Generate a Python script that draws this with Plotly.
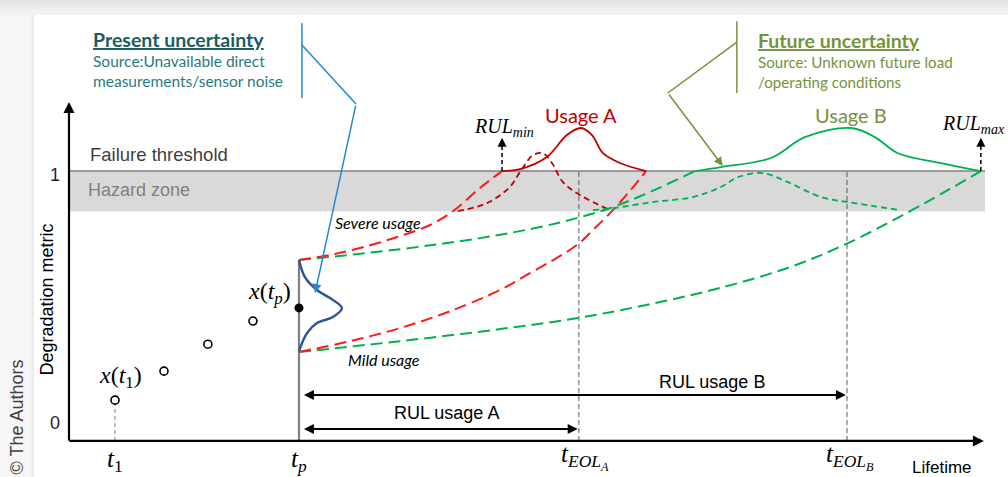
import plotly.graph_objects as go

# ---------------- scales ----------------
# lifetime (horizontal) and degradation metric (vertical) view windows
T_RANGE = [-3.0, 40.83]
D_RANGE = [-0.214, 1.679]
AXIS_D = -0.071          # level at which the lifetime axis is drawn
AXIS_T_END = 39.78       # tip of the lifetime arrow
AXIS_D_END = 1.274       # tip of the degradation arrow

# ---------------- data ----------------
meas_t = [2.0, 4.13, 6.04, 8.0]          # past measurements x(t_i)
meas_d = [0.091, 0.206, 0.313, 0.405]
t_p = 10.0
x_tp = 0.457                              # current estimate x(t_p)

threshold = 1.0
hazard_low = 0.841
hazard_t_end = 39.83

t_eol_a = 22.17
t_eol_b = 33.83
t_rul_min = 18.83
t_rul_max = 39.65
rul_a_level = -0.024
rul_b_level = 0.111

# present-state uncertainty (pdf drawn sideways at t_p)
pdf_now_t = [10.0, 10.26, 10.78, 11.35, 11.87, 11.48, 10.78, 10.35, 10.0]
pdf_now_d = [0.647, 0.579, 0.528, 0.496, 0.456, 0.421, 0.397, 0.357, 0.286]

# severe usage (A) degradation bounds
severe_hi_t = [10.0, 11.35, 12.78, 14.39, 15.70, 16.70, 17.87, 18.83]
severe_hi_d = [0.647, 0.667, 0.698, 0.742, 0.786, 0.841, 0.933, 1.0]
severe_lo_t = [10.0, 12.22, 14.39, 16.57, 18.74, 20.04, 21.13, 22.13, 22.87, 23.65, 24.39, 25.09]
severe_lo_d = [0.282, 0.325, 0.377, 0.444, 0.528, 0.595, 0.651, 0.710, 0.774, 0.845, 0.921, 1.0]

# mild usage (B) degradation bounds
mild_hi_t = [10.0, 14.39, 17.87, 20.48, 22.22, 23.65, 25.26, 27.22]
mild_hi_d = [0.647, 0.690, 0.734, 0.778, 0.817, 0.857, 0.917, 1.0]
mild_lo_t = [10.0, 14.39, 18.74, 22.13, 25.26, 28.30, 31.35, 33.87, 36.57, 38.30, 39.65]
mild_lo_d = [0.282, 0.325, 0.373, 0.417, 0.472, 0.536, 0.619, 0.714, 0.841, 0.929, 1.0]

# end-of-life distributions
eol_a_t = [18.83, 19.61, 20.78, 21.65, 22.26, 22.74, 23.22, 23.96, 25.09]
eol_a_d = [1.0, 1.008, 1.056, 1.143, 1.171, 1.143, 1.071, 1.032, 1.0]
eol_a2_t = [16.91, 18.17, 19.17, 19.61, 20.17, 20.61, 21.0, 21.48, 22.22, 23.52]
eol_a2_d = [0.841, 0.873, 0.937, 0.996, 1.063, 1.071, 1.032, 0.956, 0.905, 0.845]
eol_b_t = [27.22, 28.35, 30.52, 32.0, 34.0, 35.04, 36.04, 37.91, 39.65]
eol_b_d = [1.0, 1.016, 1.052, 1.135, 1.171, 1.135, 1.071, 1.032, 1.0]
eol_b2_t = [22.78, 23.65, 25.39, 27.13, 28.35, 29.09, 30.17, 31.26, 32.70, 33.87, 36.17]
eol_b2_d = [0.845, 0.853, 0.877, 0.897, 0.937, 0.976, 0.992, 0.956, 0.897, 0.877, 0.845]

# call-out leader lines
present_bar_t = [10.13, 10.13]
present_bar_d = [1.587, 1.290]
present_lead_t = [10.13, 12.48]
present_lead_d = [1.500, 1.266]
present_tip = (10.70, 0.516)
future_bar_t = [29.04, 29.04]
future_bar_d = [1.595, 1.310]
future_lead_t = [29.04, 26.04]
future_lead_d = [1.512, 1.310]
future_tip = (28.43, 1.020)

# ---------------- colours / fonts ----------------
RED = "#ff1a1a"
DARK_RED = "#c00000"
GREEN = "#00b050"
OLIVE = "#76923c"
BLUE_PDF = "#2f5597"
BLUE_LEAD = "#1f8ad2"
TEAL_T = "#1b5c63"
TEAL_S = "#2a7a7f"
SANS = "Liberation Sans, Arial, sans-serif"
CAL = "Lato, Carlito, sans-serif"
MATH = "Liberation Serif, DejaVu Serif, serif"

fig = go.Figure()


def line(t, d, color, width=2.0, dash="solid", shape="spline"):
    fig.add_trace(go.Scatter(x=t, y=d, mode="lines", hoverinfo="skip",
                             line=dict(color=color, width=width, dash=dash, shape=shape)))


# threshold and hazard zone
fig.add_shape(type="rect", xref="x", yref="y", x0=0, x1=hazard_t_end, y0=hazard_low,
              y1=threshold, fillcolor="#d9d9d9", line_width=0, layer="below")
line([0, hazard_t_end], [threshold, threshold], "#7f7f7f", 1.5, shape="linear")

# vertical guides
line([meas_t[0], meas_t[0]], [AXIS_D, meas_d[0] - 0.02], "#7f7f7f", 1, "4px,3px", "linear")
line([t_eol_a, t_eol_a], [AXIS_D, threshold], "#595959", 1, "5px,3px", "linear")
line([t_eol_b, t_eol_b], [AXIS_D, threshold], "#595959", 1, "5px,3px", "linear")
line([t_p, t_p], [AXIS_D, pdf_now_d[0]], "#808080", 2.2, shape="linear")

# degradation propagation
line(mild_hi_t, mild_hi_d, GREEN, 2, "12px,6px")
line(mild_lo_t, mild_lo_d, GREEN, 2, "12px,6px")
line(severe_hi_t, severe_hi_d, RED, 2, "12px,6px")
line(severe_lo_t, severe_lo_d, RED, 2, "12px,6px")

# end-of-life pdfs
line(eol_a2_t, eol_a2_d, DARK_RED, 1.8, "6px,4px")
line(eol_b2_t, eol_b2_d, GREEN, 1.8, "6px,4px")
line(eol_a_t, eol_a_d, DARK_RED, 1.8)
line(eol_b_t, eol_b_d, GREEN, 1.8)

# present pdf
line(pdf_now_t, pdf_now_d, BLUE_PDF, 2.5)

# RUL bound stems (dashed, arrowheads added as annotations)
line([t_rul_min, t_rul_min], [threshold, 1.10], "#000000", 1.5, "4px,3px", "linear")
line([t_rul_max, t_rul_max], [threshold, 1.10], "#000000", 1.5, "4px,3px", "linear")

# call-out leader lines
line(present_bar_t, present_bar_d, BLUE_LEAD, 1.5, shape="linear")
line(present_lead_t, present_lead_d, BLUE_LEAD, 1.5, shape="linear")
line(future_bar_t, future_bar_d, OLIVE, 1.5, shape="linear")
line(future_lead_t, future_lead_d, OLIVE, 1.5, shape="linear")

# measurements
fig.add_trace(go.Scatter(x=meas_t, y=meas_d, mode="markers", hoverinfo="skip",
                         marker=dict(symbol="circle-open", size=8, color="#000000",
                                     line=dict(width=1.6))))
fig.add_trace(go.Scatter(x=[t_p], y=[x_tp], mode="markers", hoverinfo="skip",
                         marker=dict(symbol="circle", size=9, color="#000000")))

ann = []


def arrow(x, y, ax, ay, color="#000000", width=2.0, head=2, size=1.0, side="end"):
    ann.append(dict(x=x, y=y, ax=ax, ay=ay, xref="x", yref="y", axref="x", ayref="y",
                    text="", showarrow=True, arrowhead=head, startarrowhead=head,
                    arrowsize=size, startarrowsize=size, arrowwidth=width,
                    arrowcolor=color, arrowside=side))


def text(x, y, s, size=17, color="#000000", family=SANS, xanchor="center",
         yanchor="middle", angle=0, align="center", yshift=0):
    ann.append(dict(x=x, y=y, xref="x", yref="y", text=s, showarrow=False,
                    font=dict(size=size, color=color, family=family),
                    xanchor=xanchor, yanchor=yanchor, textangle=angle, align=align,
                    yshift=yshift))


# axes
arrow(0, AXIS_D_END, 0, AXIS_D - 0.004, width=2.2, head=2, size=1.0)
arrow(AXIS_T_END, AXIS_D, -0.05, AXIS_D, width=2.2, head=2, size=1.0)

# RUL spans
arrow(t_eol_a - 0.05, rul_a_level, t_p + 0.15, rul_a_level, width=2, head=2, size=1.0,
      side="end+start")
arrow(t_eol_b - 0.05, rul_b_level, t_p + 0.15, rul_b_level, width=2, head=2, size=1.0,
      side="end+start")

# RUL bound arrowheads
arrow(t_rul_min, 1.132, t_rul_min, 1.09, width=1.5, head=2, size=1.2)
arrow(t_rul_max, 1.132, t_rul_max, 1.09, width=1.5, head=2, size=1.2)

# call-out arrows
arrow(present_tip[0], present_tip[1], present_lead_t[-1], present_lead_d[-1],
      color=BLUE_LEAD, width=1.5, head=2, size=1.2)
arrow(future_tip[0], future_tip[1], future_lead_t[-1], future_lead_d[-1],
      color=OLIVE, width=1.5, head=2, size=1.2)

# axis labels and ticks
text(-0.61, 1.0, "1", 18, "#262626", yshift=-4)
text(-0.61, 0.0, "0", 18, "#262626")
text(-0.96, 0.49, "Degradation metric", 18, "#000000", angle=-90)
text(37.96, -0.175, "Lifetime", 17, "#000000")
text(meas_t[0], -0.150, "<i>t</i><sub>1</sub>", 25, "#000000", MATH)
text(t_p, -0.150, "<i>t<sub>p</sub></i>", 25, "#000000", MATH)
text(t_eol_a + 0.26, -0.150, "<i>t<sub>EOL<sub>A</sub></sub></i>", 25, "#000000", MATH,
     yshift=4)
text(t_eol_b + 0.13, -0.150, "<i>t<sub>EOL<sub>B</sub></sub></i>", 25, "#000000", MATH,
     yshift=4)

# measurement labels
text(2.22, 0.183, "<i>x</i>(<i>t</i><sub>1</sub>)", 24, "#000000", MATH)
text(8.70, 0.516, "<i>x</i>(<i>t<sub>p</sub></i>)", 24, "#000000", MATH)

# zone labels
text(0.83, 1.067, "Failure threshold", 18.5, "#404040", xanchor="left")
text(0.74, 0.925, "Hazard zone", 18, "#7f7f7f", xanchor="left")

# usage labels
text(13.43, 0.798, "<i>Severe usage</i>", 16, "#000000", CAL)
text(13.70, 0.254, "<i>Mild usage</i>", 16, "#000000", CAL)
text(22.26, 1.222, "Usage A", 20, DARK_RED, CAL)
text(34.0, 1.222, "Usage B", 20, OLIVE, CAL)

# RUL labels
text(16.43, 0.040, "RUL usage A", 18, "#000000")
text(27.96, 0.163, "RUL usage B", 18, "#000000")
text(18.91, 1.175, "<i>RUL<sub>min</sub></i>", 20, "#000000", MATH)
text(40.78, 1.183, "<i>RUL<sub>max</sub></i>", 20, "#000000", MATH, xanchor="right")

# call-out captions
text(0.96, 1.524, "<b><u>Present uncertainty</u></b>", 19.5, TEAL_T, CAL, xanchor="left")
text(0.96, 1.397, "Source:Unavailable direct<br>measurements/sensor noise", 15.5, TEAL_S,
     CAL, xanchor="left", align="left")
text(29.87, 1.520, "<b><u>Future uncertainty</u></b>", 19.5, OLIVE, CAL, xanchor="left")
text(29.87, 1.393, "Source: Unknown future load<br>/operating conditions", 15.2, OLIVE, CAL,
     xanchor="left", align="left")

# credit
text(-2.22, -0.210, "\u00a9 The Authors", 18, "#404040", angle=-90, yanchor="bottom")

# page background: card with soft shadow
shapes = [
    dict(type="rect", xref="paper", yref="paper", x0=0, x1=1, y0=0, y1=1,
         fillcolor="#f6f6f6", line_width=0, layer="below"),
]
top_band = ["#e3e3e3", "#e6e6e6", "#e9e9e9", "#ebebeb", "#eeeeee", "#f0f0f0", "#f2f2f2",
            "#f4f4f4"]
H = 477.0
W = 1008.0
for i, c in enumerate(top_band):
    shapes.append(dict(type="rect", xref="paper", yref="paper", x0=0, x1=1,
                       y0=1 - (2 * i + 2) / H, y1=1 - (2 * i) / H, fillcolor=c,
                       line_width=0, layer="below"))
for i, c in enumerate(["#f1f1f1", "#ededed", "#e9e9e9"]):
    shapes.append(dict(type="rect", xref="paper", yref="paper", x0=(31 + i) / W,
                       x1=(32 + i) / W, y0=0, y1=1 - 15 / H, fillcolor=c, line_width=0,
                       layer="below"))
shapes.append(dict(type="rect", xref="paper", yref="paper", x0=34 / W, x1=1, y0=0,
                   y1=1 - 15 / H, fillcolor="#ffffff", line_width=0, layer="below"))
shapes += list(fig.layout.shapes)

fig.update_layout(
    width=1008, height=477, autosize=False,
    margin=dict(l=0, r=0, t=0, b=0, pad=0),
    paper_bgcolor="#f6f6f6", plot_bgcolor="rgba(0,0,0,0)",
    showlegend=False,
    xaxis=dict(range=T_RANGE, visible=False, fixedrange=True),
    yaxis=dict(range=D_RANGE, visible=False, fixedrange=True),
    annotations=ann,
    shapes=shapes,
)

fig.write_html("out.html")
